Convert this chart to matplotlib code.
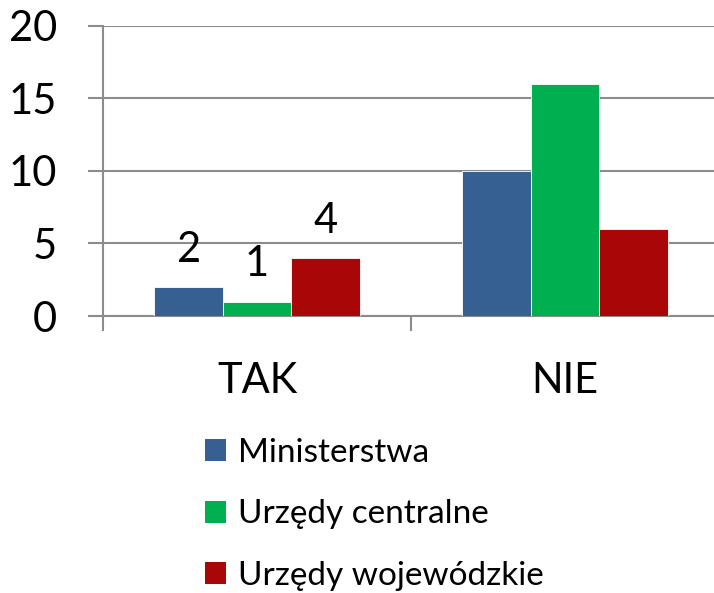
import numpy as np
import matplotlib.pyplot as plt
from matplotlib.patches import Patch

categories = ["TAK", "NIE"]
series_names = ["Ministerstwa", "Urzędy centralne", "Urzędy wojewódzkie"]
ministerstwa = [2, 10]
urzedy_centralne = [1, 16]
urzedy_wojewodzkie = [4, 6]
colors = ["#376092", "#00B050", "#A90707"]

plt.rcParams['font.family'] = ['Lato', 'DejaVu Sans']

fig = plt.figure(figsize=(7.14, 5.93), dpi=100)
ax = fig.add_axes([103 / 714, 277 / 593, 616 / 714, 290 / 593])

x = np.arange(len(categories))
w = 0.222
series = [ministerstwa, urzedy_centralne, urzedy_wojewodzkie]
for i, (vals, name, c) in enumerate(zip(series, series_names, colors)):
    bars = ax.bar(x + (i - 1) * w, vals, w, color=c, label=name,
                  edgecolor="white", linewidth=0.6, zorder=3)
    # only the first group carries value labels
    ax.annotate(str(vals[0]), (x[0] + (i - 1) * w, vals[0]),
                xytext=(0, 13), textcoords="offset points",
                ha="center", va="bottom", fontsize=30)

ax.set_xlim(-0.5, 1.5)
ax.set_ylim(0, 20)
ax.set_yticks([0, 5, 10, 15, 20])
ax.yaxis.grid(True, color="#8c8c8c", linewidth=1.5, zorder=0)
ax.set_axisbelow(True)

ax.set_xticks(x)
ax.set_xticklabels(categories)
ax.set_xticks([-0.5, 0.5, 1.5], minor=True)
ax.tick_params(axis="x", which="major", length=0, pad=33, labelsize=30)
ax.tick_params(axis="x", which="minor", length=11, width=1.5, color="#8c8c8c")
ax.tick_params(axis="y", length=11, width=1.5, color="#8c8c8c", pad=22, labelsize=30)

for s in ["top", "right"]:
    ax.spines[s].set_visible(False)
ax.spines["left"].set_color("#8c8c8c")
ax.spines["left"].set_linewidth(1.5)
ax.spines["bottom"].set_color("#8c8c8c")
ax.spines["bottom"].set_linewidth(1.5)

handles = [Patch(facecolor=c) for c in colors]
fig.legend(handles, series_names, loc="upper left",
           bbox_to_anchor=(205 / 714, 1 - 438 / 593), frameon=False,
           fontsize=24, handlelength=0.64, handleheight=0.64,
           handletextpad=0.35, labelspacing=0.94, borderpad=0, borderaxespad=0)

fig.savefig("out.png", dpi=100)
